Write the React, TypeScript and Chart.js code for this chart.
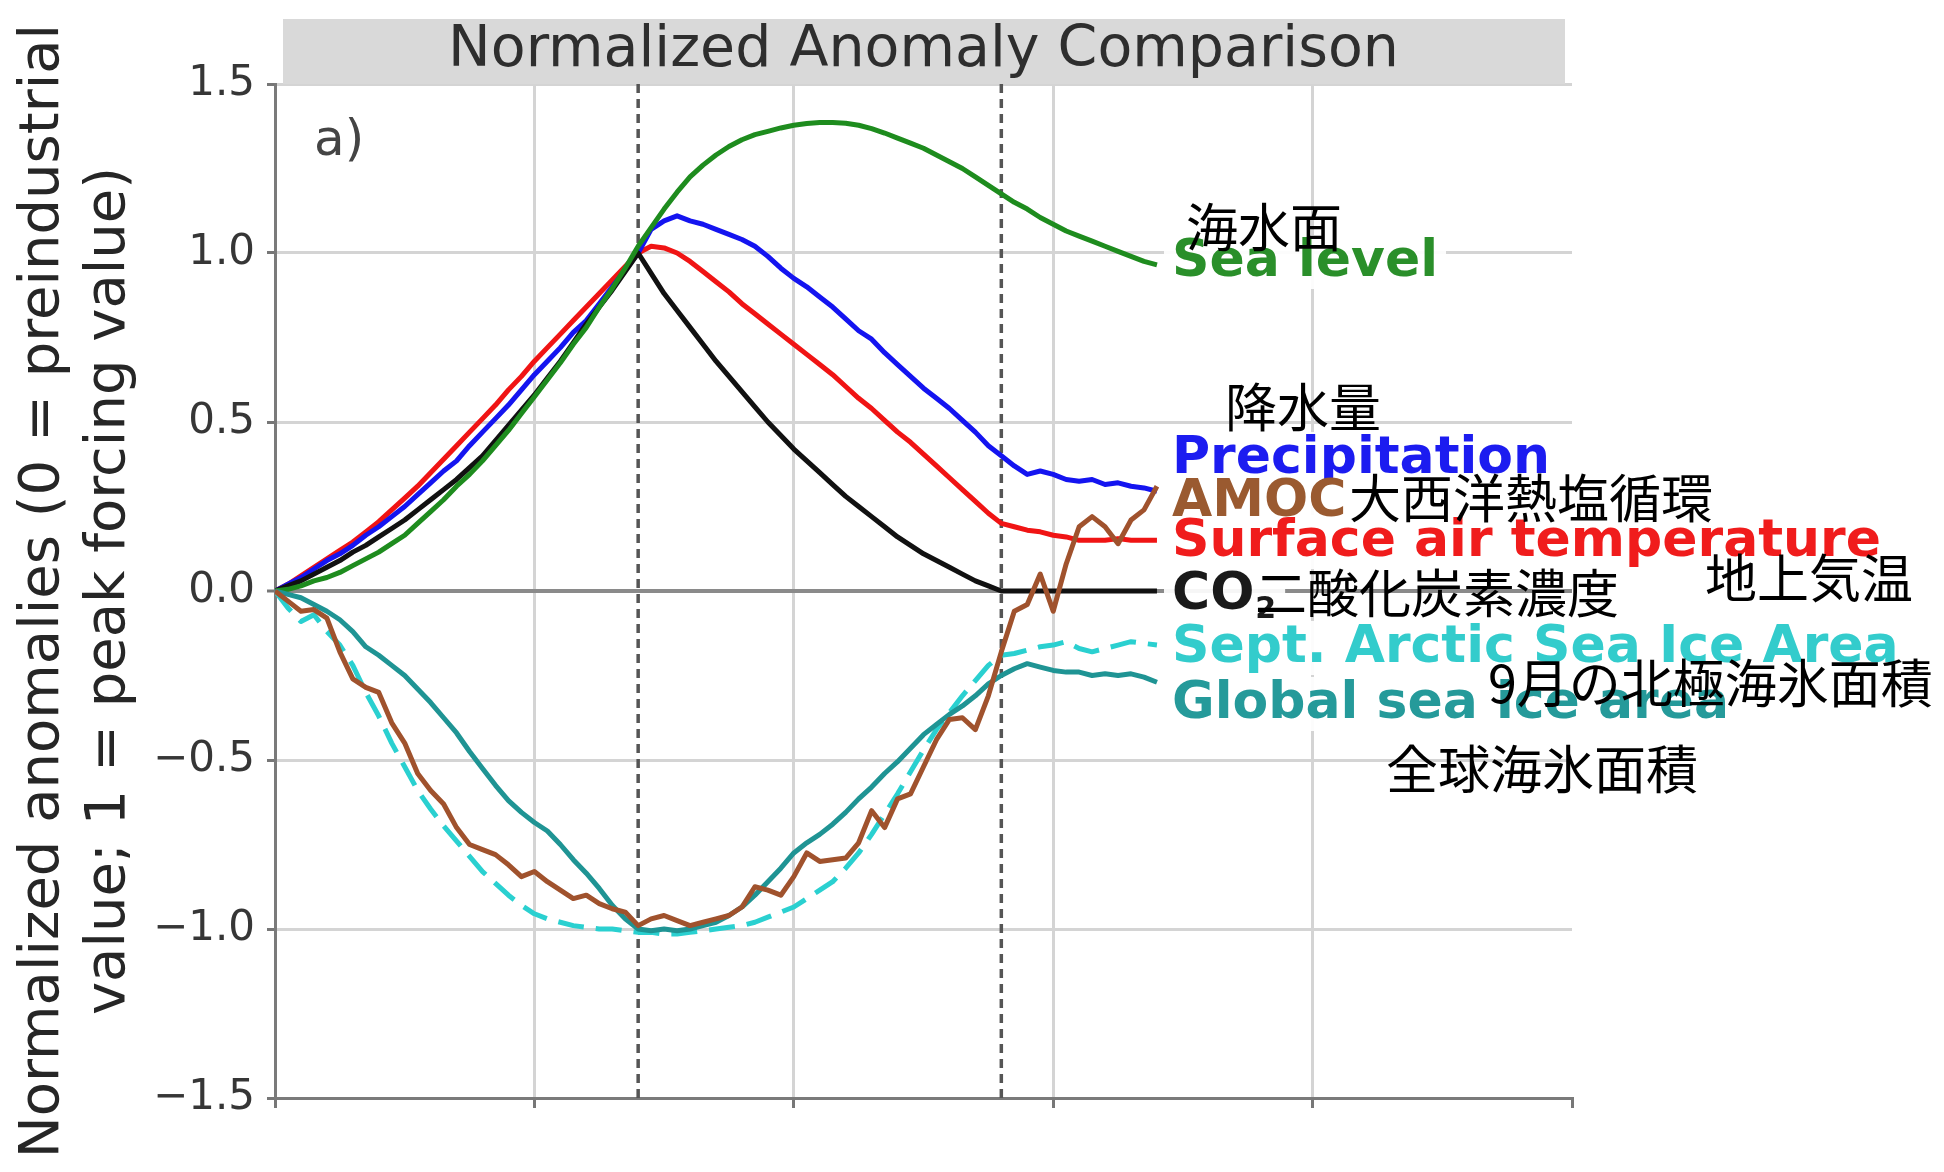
import React, { useEffect, useRef } from 'react';
import { Chart, registerables } from 'chart.js';

Chart.register(...registerables);

// ---------- data (years since start of experiment) ----------
const years = [
  0, 5, 10, 15, 20, 25, 30, 35, 40, 45, 50, 55, 60, 65, 70, 75, 80, 85, 90, 95,
  100, 105, 110, 115, 120, 125, 130, 135, 140, 145, 150, 155, 160, 165, 170, 175, 180, 185, 190, 195,
  200, 205, 210, 215, 220, 225, 230, 235, 240, 245, 250, 255, 260, 265, 270, 275, 280, 285, 290, 295,
  300, 305, 310, 315, 320, 325, 330, 335, 340,
];

const co2 = [
  0, 0.015, 0.03, 0.05, 0.07, 0.09, 0.115, 0.135, 0.16, 0.185, 0.21, 0.24, 0.27, 0.3, 0.33, 0.365, 0.4, 0.445, 0.49, 0.535,
  0.58, 0.63, 0.68, 0.735, 0.79, 0.84, 0.89, 0.945, 1.0,
  0.94, 0.88, 0.83, 0.78, 0.73, 0.68, 0.635, 0.59, 0.545, 0.5, 0.46, 0.42, 0.385, 0.35, 0.315, 0.28, 0.25, 0.22, 0.19, 0.16,
  0.135, 0.11, 0.09, 0.07, 0.05, 0.03, 0.015, 0,
  0, 0, 0, 0, 0, 0, 0, 0, 0, 0, 0, 0,
];

const surfaceTemp = [
  0, 0.02, 0.045, 0.07, 0.095, 0.12, 0.145, 0.175, 0.205, 0.24, 0.275, 0.31, 0.35, 0.39, 0.43, 0.47, 0.51, 0.55, 0.595, 0.635,
  0.68, 0.72, 0.76, 0.8, 0.84, 0.88, 0.92, 0.96, 1.0,
  1.02, 1.015, 1.0, 0.975, 0.945, 0.915, 0.885, 0.85, 0.82, 0.79, 0.76, 0.73, 0.7, 0.67, 0.64, 0.605, 0.57, 0.54, 0.505, 0.47,
  0.44, 0.405, 0.37, 0.335, 0.3, 0.265, 0.23, 0.2,
  0.19, 0.18, 0.175, 0.165, 0.16, 0.15, 0.15, 0.15, 0.155, 0.15, 0.15, 0.15,
];

const precipitation = [
  0, 0.02, 0.04, 0.065, 0.09, 0.11, 0.135, 0.165, 0.19, 0.22, 0.25, 0.285, 0.32, 0.355, 0.385, 0.43, 0.47, 0.51, 0.55, 0.595,
  0.64, 0.68, 0.72, 0.765, 0.8, 0.85, 0.9, 0.95, 1.0,
  1.07, 1.095, 1.11, 1.095, 1.085, 1.07, 1.055, 1.04, 1.02, 0.99, 0.955, 0.925, 0.9, 0.87, 0.84, 0.805, 0.77, 0.745, 0.705, 0.67,
  0.635, 0.6, 0.57, 0.54, 0.505, 0.47, 0.43, 0.4,
  0.37, 0.345, 0.355, 0.345, 0.33, 0.325, 0.33, 0.315, 0.32, 0.31, 0.305, 0.295,
];

const seaLevel = [
  0, 0.005, 0.015, 0.03, 0.04, 0.055, 0.075, 0.095, 0.115, 0.14, 0.165, 0.2, 0.235, 0.27, 0.31, 0.345, 0.385, 0.43, 0.475, 0.525,
  0.575, 0.625, 0.675, 0.73, 0.78, 0.84, 0.895, 0.955, 1.02,
  1.075, 1.13, 1.18, 1.225, 1.26, 1.29, 1.315, 1.335, 1.35, 1.36, 1.37, 1.378, 1.383, 1.386, 1.386, 1.384, 1.378, 1.368, 1.355, 1.34,
  1.325, 1.31, 1.29, 1.27, 1.25, 1.225, 1.2, 1.175,
  1.15, 1.13, 1.105, 1.085, 1.065, 1.05, 1.035, 1.02, 1.005, 0.99, 0.975, 0.965,
];

const globalSeaIce = [
  0, -0.01, -0.02, -0.04, -0.06, -0.085, -0.12, -0.165, -0.19, -0.22, -0.25, -0.29, -0.33, -0.375, -0.42, -0.475, -0.525, -0.575, -0.62, -0.655,
  -0.685, -0.71, -0.75, -0.795, -0.835, -0.88, -0.93, -0.97, -1.0,
  -1.005, -1.0, -1.005, -1.0, -0.99, -0.98, -0.96, -0.935, -0.9, -0.86, -0.82, -0.775, -0.745, -0.72, -0.69, -0.655, -0.615, -0.58, -0.54, -0.505,
  -0.465, -0.425, -0.395, -0.365, -0.34, -0.31, -0.275, -0.25,
  -0.23, -0.215, -0.225, -0.235, -0.24, -0.24, -0.25, -0.245, -0.25, -0.245, -0.255, -0.27,
];

const septArcticIce = [
  0, -0.05, -0.09, -0.07, -0.12, -0.16, -0.22, -0.3, -0.37, -0.45, -0.52, -0.59, -0.645, -0.695, -0.74, -0.785, -0.83, -0.865, -0.9, -0.93,
  -0.955, -0.97, -0.98, -0.99, -0.995, -1.0, -1.0, -1.005, -1.01,
  -1.01, -1.015, -1.015, -1.01, -1.005, -1.0, -0.995, -0.99, -0.98, -0.965, -0.95, -0.935, -0.91, -0.885, -0.86, -0.82, -0.775, -0.72, -0.66, -0.6,
  -0.535, -0.47, -0.41, -0.36, -0.31, -0.265, -0.22, -0.19,
  -0.185, -0.175, -0.165, -0.16, -0.15, -0.17, -0.18, -0.17, -0.16, -0.15, -0.155, -0.16,
];

const amoc = [
  0, -0.03, -0.06, -0.055, -0.08, -0.18, -0.26, -0.285, -0.3, -0.39, -0.45, -0.54, -0.59, -0.63, -0.7, -0.75, -0.765, -0.78, -0.81, -0.845,
  -0.83, -0.86, -0.885, -0.91, -0.9, -0.925, -0.94, -0.95, -0.99,
  -0.97, -0.96, -0.975, -0.99, -0.98, -0.97, -0.96, -0.935, -0.875, -0.885, -0.9, -0.845, -0.775, -0.8, -0.795, -0.79, -0.745, -0.65, -0.7, -0.615,
  -0.6, -0.52, -0.44, -0.38, -0.375, -0.41, -0.31, -0.18,
  -0.06, -0.04, 0.05, -0.06, 0.08, 0.19, 0.22, 0.19, 0.14, 0.21, 0.24, 0.31,
];

const phaseBoundaries = [140, 280];

const chartTitle = 'Normalized Anomaly Comparison';
const yAxisTitle = ['Normalized anomalies (0 = preindustrial', 'value; 1 = peak forcing value)'];
const panelLabel = 'a)';
const seriesNames = [
  'Sea level',
  'Precipitation',
  'AMOC',
  'Surface air temperature',
  'CO₂',
  'Sept. Arctic Sea Ice Area',
  'Global sea ice area',
];
const japaneseNames = ['海水面', '降水量', '大西洋熱塩循環', '二酸化炭素濃度', '地上気温', '9月の北極海氷面積', '全球海氷面積'];

const toPoints = (vals: number[]) => years.map((x, i) => ({ x, y: vals[i] }));

const overlayPlugin = {
  id: 'overlay',
  beforeDraw(chart: any) {
    const { ctx, width, height } = chart;
    ctx.save();
    ctx.fillStyle = '#ffffff';
    ctx.fillRect(0, 0, width, height);
    ctx.restore();
  },
  afterDraw(chart: any) {
    const { ctx, chartArea } = chart;
    const { left, right, top } = chartArea;
    ctx.save();
    // title strip
    ctx.fillStyle = '#d9d9d9';
    ctx.fillRect(left + 8, 19, right - left - 15, top - 19);
    ctx.fillStyle = '#2e2e2e';
    ctx.font = '57px "DejaVu Sans"';
    ctx.textAlign = 'center';
    ctx.textBaseline = 'middle';
    ctx.fillText(chartTitle, (left + right) / 2, 51);

    // panel label
    ctx.textAlign = 'left';
    ctx.fillStyle = '#444444';
    ctx.font = '50px "DejaVu Sans"';
    ctx.fillText(panelLabel, left + 39, 142);

    // English series labels
    const xL = left + 897;
    const eng = [
      { text: seriesNames[0], y: 262, color: '#2a8f2a' },
      { text: seriesNames[1], y: 459, color: '#1c1cf0' },
      { text: seriesNames[2], y: 502, color: '#9a5a30' },
      { text: seriesNames[3], y: 542, color: '#f01c1c' },
      { text: seriesNames[4], y: 595, color: '#1a1a1a' },
      { text: seriesNames[5], y: 648, color: '#33cccc' },
      { text: seriesNames[6], y: 704, color: '#259a9a' },
    ];
    ctx.font = 'bold 52px "DejaVu Sans"';
    ctx.textBaseline = 'middle';
    ctx.fillStyle = 'rgba(255,255,255,0.92)';
    eng.forEach((l) => {
      const w = ctx.measureText(l.text).width;
      ctx.fillRect(xL - 8, l.y - 27, w + 16, 54);
    });
    eng.forEach((l) => {
      ctx.fillStyle = l.color;
      if (l.text.endsWith('₂')) {
        const base = l.text.slice(0, -1);
        ctx.font = 'bold 52px "DejaVu Sans"';
        ctx.fillText(base, xL, l.y);
        const bw = ctx.measureText(base).width;
        ctx.font = 'bold 30px "DejaVu Sans"';
        ctx.fillText('2', xL + bw + 1, l.y + 15);
        ctx.font = 'bold 52px "DejaVu Sans"';
      } else {
        ctx.fillText(l.text, xL, l.y);
      }
    });

    // Japanese labels
    const jp = [
      { text: japaneseNames[0], x: 1186, y: 227 },
      { text: japaneseNames[1], x: 1225, y: 407 },
      { text: japaneseNames[2], x: 1349, y: 498 },
      { text: japaneseNames[3], x: 1255, y: 593 },
      { text: japaneseNames[4], x: 1705, y: 578 },
      { text: japaneseNames[5], x: 1488, y: 683 },
      { text: japaneseNames[6], x: 1386, y: 769 },
    ];
    ctx.font = '52px "Noto Sans CJK JP"';
    ctx.fillStyle = '#000000';
    jp.forEach((l) => ctx.fillText(l.text, l.x, l.y));
    ctx.restore();
  },
};

export default function App() {
  const canvasRef = useRef<HTMLCanvasElement | null>(null);

  useEffect(() => {
    const canvas = canvasRef.current;
    if (!canvas) return;
    const line = (label: string, vals: number[], color: string, order: number, extra: any = {}) => ({
      label,
      data: toPoints(vals),
      borderColor: color,
      backgroundColor: color,
      borderWidth: 5,
      pointRadius: 0,
      fill: false,
      tension: 0,
      borderJoinStyle: 'round',
      order,
      ...extra,
    });

    const chart = new Chart(canvas, {
      type: 'line',
      data: {
        datasets: [
          line('AMOC', amoc, '#a0522d', 1),
          line('Global sea ice area', globalSeaIce, '#1f9494', 2),
          line('Sept. Arctic Sea Ice Area', septArcticIce, '#2ad0d0', 3, { borderDash: [26, 12] }),
          line('Sea level', seaLevel, '#1e8c1e', 4),
          line('CO2', co2, '#111111', 5),
          line('Precipitation', precipitation, '#1414f0', 6),
          line('Surface air temperature', surfaceTemp, '#f01414', 7),
          ...phaseBoundaries.map((b, i) => ({
            label: 'boundary' + i,
            data: [
              { x: b, y: -1.5 },
              { x: b, y: 1.5 },
            ],
            borderColor: '#555555',
            borderWidth: 3.5,
            borderDash: [9, 6],
            pointRadius: 0,
            fill: false,
            order: 10 + i,
          })),
        ],
      },
      options: {
        responsive: false,
        animation: false,
        devicePixelRatio: 1,
        layout: { padding: { left: 0, top: 84, right: 372, bottom: 0 } },
        plugins: {
          legend: { display: false },
          tooltip: { enabled: false },
        },
        scales: {
          x: {
            type: 'linear',
            min: 0,
            max: 500,
            ticks: { stepSize: 100, display: false },
            grid: {
              color: (c: any) => (c.tick && c.tick.value === 500 ? 'rgba(0,0,0,0)' : '#d4d4d4'),
              lineWidth: 3,
              tickColor: '#777777',
              tickLength: 10,
              tickWidth: 3,
            },
            border: { color: '#7a7a7a', width: 3 },
            afterFit: (s: any) => {
              s.height = 74;
            },
          },
          y: {
            type: 'linear',
            min: -1.5,
            max: 1.5,
            ticks: {
              stepSize: 0.5,
              padding: 12,
              color: '#363636',
              font: { family: 'DejaVu Sans', size: 42 },
              callback: (v: any) => (v < 0 ? '−' : '') + Math.abs(Number(v)).toFixed(1),
            },
            grid: {
              color: (c: any) => (c.tick && c.tick.value === 0 ? '#8a8a8a' : '#d4d4d4'),
              lineWidth: (c: any) => (c.tick && c.tick.value === 0 ? 4 : 3),
              tickColor: '#777777',
              tickLength: 8,
              tickWidth: 3,
            },
            border: { color: '#7a7a7a', width: 3 },
            title: {
              display: true,
              text: yAxisTitle,
              color: '#262626',
              font: { family: 'DejaVu Sans', size: 56, lineHeight: 1.18 },
              padding: { top: 10, bottom: 0 },
            },
            afterFit: (s: any) => {
              s.width = 275;
            },
          },
        },
      },
      plugins: [overlayPlugin],
    } as any);

    return () => chart.destroy();
  }, []);

  return (
    <div style={{ position: 'absolute', left: 0, top: 0, width: 1944, height: 1172 }}>
      <canvas ref={canvasRef} width={1944} height={1172} style={{ display: 'block' }} />
    </div>
  );
}
